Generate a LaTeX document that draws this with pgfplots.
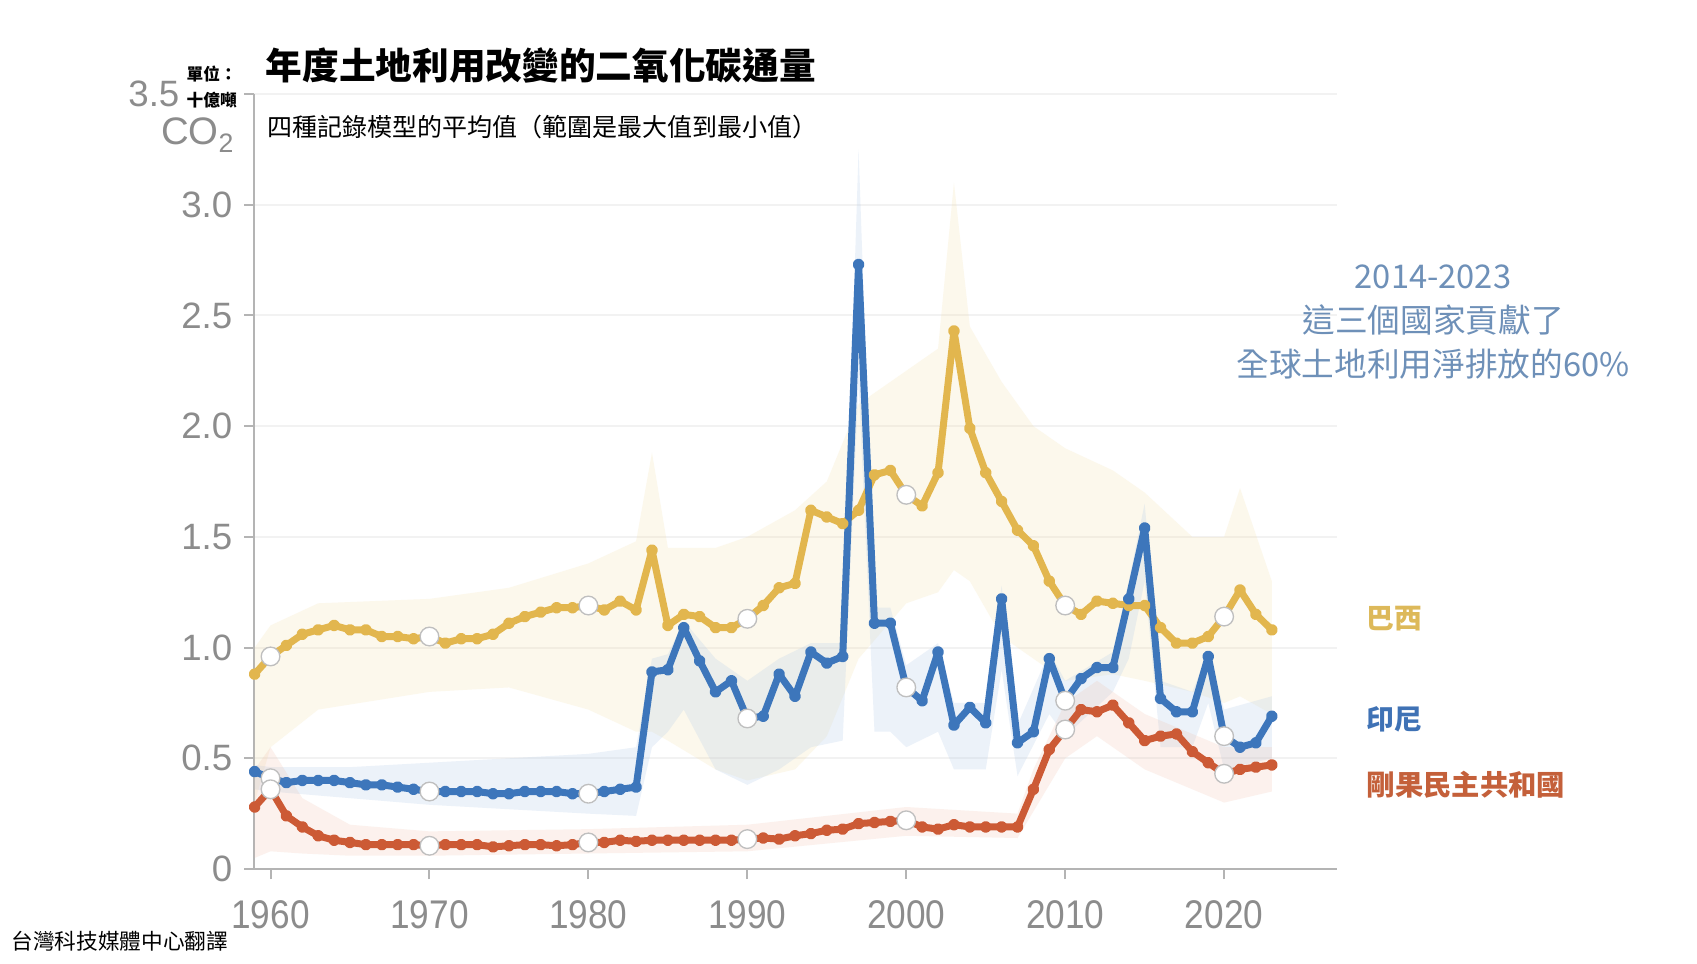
\documentclass[border=0pt]{standalone}
\usepackage{pgfplots}
\pgfplotsset{compat=1.18}
\usepackage{pgfplotstable}
\usepackage{fontspec}
\setmainfont{Liberation Sans}
\newfontfamily\cjk{Noto Sans CJK TC}
\definecolor{cBR}{HTML}{E2B64E}
\definecolor{cID}{HTML}{3D76BB}
\definecolor{cCD}{HTML}{CC5A35}
\definecolor{cBRb}{HTML}{F3DDA0}
\definecolor{cIDb}{HTML}{B5CDEA}
\definecolor{cCDb}{HTML}{F0BBA8}
\definecolor{cAnn}{HTML}{6E90B8}
\definecolor{cTick}{HTML}{8C8C8C}
\definecolor{cAxis}{HTML}{B4B4B4}
\definecolor{cBRl}{HTML}{DDB95A}
\definecolor{cIDl}{HTML}{3F72B5}
\definecolor{cCDl}{HTML}{C4603A}

\pgfplotstableread{
year br id cd
1959 0.88 0.44 0.28
1960 0.96 0.41 0.36
1961 1.01 0.39 0.24
1962 1.06 0.40 0.19
1963 1.08 0.40 0.15
1964 1.10 0.40 0.13
1965 1.08 0.39 0.12
1966 1.08 0.38 0.11
1967 1.05 0.38 0.11
1968 1.05 0.37 0.11
1969 1.04 0.36 0.11
1970 1.05 0.35 0.105
1971 1.02 0.35 0.11
1972 1.04 0.35 0.11
1973 1.04 0.35 0.11
1974 1.06 0.34 0.10
1975 1.11 0.34 0.105
1976 1.14 0.35 0.11
1977 1.16 0.35 0.11
1978 1.18 0.35 0.105
1979 1.18 0.34 0.11
1980 1.19 0.34 0.12
1981 1.17 0.35 0.12
1982 1.21 0.36 0.13
1983 1.17 0.37 0.125
1984 1.44 0.89 0.13
1985 1.10 0.90 0.13
1986 1.15 1.09 0.13
1987 1.14 0.94 0.13
1988 1.09 0.80 0.13
1989 1.09 0.85 0.13
1990 1.13 0.68 0.135
1991 1.19 0.69 0.14
1992 1.27 0.88 0.135
1993 1.29 0.78 0.15
1994 1.62 0.98 0.16
1995 1.59 0.93 0.175
1996 1.56 0.96 0.18
1997 1.62 2.73 0.205
1998 1.78 1.11 0.21
1999 1.80 1.11 0.215
2000 1.69 0.82 0.22
2001 1.64 0.76 0.19
2002 1.79 0.98 0.18
2003 2.43 0.65 0.20
2004 1.99 0.73 0.19
2005 1.79 0.66 0.19
2006 1.66 1.22 0.19
2007 1.53 0.57 0.19
2008 1.46 0.62 0.36
2009 1.30 0.95 0.54
2010 1.19 0.76 0.63
2011 1.15 0.86 0.72
2012 1.21 0.91 0.71
2013 1.20 0.91 0.74
2014 1.19 1.22 0.66
2015 1.19 1.54 0.58
2016 1.09 0.77 0.60
2017 1.02 0.71 0.61
2018 1.02 0.71 0.53
2019 1.05 0.96 0.48
2020 1.14 0.60 0.43
2021 1.26 0.55 0.45
2022 1.15 0.57 0.46
2023 1.08 0.69 0.47
}\main

\begin{document}
\begin{tikzpicture}
\fill[white] (0,0) rectangle (509.1pt,-289.2pt);
\useasboundingbox (0,0) rectangle (509.1pt,-289.2pt);
\begin{axis}[
  at={(76.2pt,-260.7pt)}, anchor=south west,
  scale only axis, width=324.9pt, height=232.5pt,
  xmin=1958.96, xmax=2027.1, ymin=0, ymax=3.5,
  axis x line*=bottom, axis y line*=left,
  axis line style={draw=cAxis, line width=0.6pt},
  xtick={1960,1970,1980,1990,2000,2010,2020},
  xticklabels={1960,1970,1980,1990,2000,2010,2020},
  ytick={0,0.5,1,1.5,2,2.5,3,3.5},
  yticklabels={0,0.5,1.0,1.5,2.0,2.5,3.0,{}},
  tick align=outside, major tick length=3pt,
  tick style={draw=cAxis, line width=0.6pt},
  ymajorgrids, grid style={draw=black!5, line width=0.6pt},
  ticklabel style={font=\fontsize{11}{11}\selectfont, text=cTick},
  xticklabel style={font=\fontsize{12}{12}\selectfont, xscale=0.88, yshift=-3pt},
]
% uncertainty ranges (max to min), drawn as closed polygons
\addplot[fill=cBRb, fill opacity=0.2, draw=none, forget plot] coordinates {
(1959,1.00)(1960,1.10)(1963,1.20)(1970,1.22)(1975,1.27)(1980,1.38)(1983,1.48)(1984,1.88)(1985,1.45)(1988,1.45)(1990,1.50)(1993,1.62)(1995,1.75)(1997,2.10)(2000,2.25)(2002,2.35)(2003,3.10)(2004,2.45)(2006,2.20)(2008,2.00)(2010,1.90)(2013,1.80)(2015,1.70)(2018,1.50)(2020,1.50)(2021,1.72)(2023,1.30)
(2023,0.70)(2021,0.78)(2020,0.75)(2018,0.80)(2015,0.85)(2013,0.88)(2010,0.85)(2008,0.95)(2006,1.05)(2004,1.30)(2003,1.35)(2002,1.25)(2000,1.20)(1997,0.95)(1995,0.60)(1993,0.45)(1990,0.40)(1988,0.45)(1985,0.58)(1984,0.62)(1983,0.62)(1980,0.72)(1975,0.82)(1970,0.80)(1963,0.72)(1960,0.55)(1959,0.30)};
\addplot[fill=cIDb, fill opacity=0.25, draw=none, forget plot] coordinates {
(1959,0.47)(1960,0.46)(1965,0.46)(1970,0.48)(1975,0.50)(1980,0.52)(1983,0.55)(1984,0.95)(1985,0.97)(1986,1.12)(1988,0.95)(1990,0.85)(1992,0.95)(1994,1.02)(1996,1.02)(1997,3.25)(1998,1.18)(1999,1.18)(2000,0.92)(2002,1.02)(2003,0.75)(2005,0.75)(2006,1.28)(2007,0.65)(2009,0.98)(2010,0.85)(2013,0.98)(2014,1.30)(2015,1.65)(2016,0.85)(2018,0.80)(2019,0.98)(2020,0.72)(2023,0.78)
(2023,0.50)(2020,0.45)(2019,0.75)(2018,0.55)(2016,0.55)(2015,1.30)(2014,0.95)(2013,0.80)(2010,0.60)(2009,0.70)(2007,0.42)(2006,0.90)(2005,0.45)(2003,0.45)(2002,0.62)(2000,0.55)(1999,0.62)(1998,0.62)(1997,2.20)(1996,0.58)(1994,0.55)(1992,0.45)(1990,0.38)(1988,0.45)(1986,0.72)(1985,0.62)(1984,0.55)(1983,0.24)(1980,0.25)(1975,0.27)(1970,0.29)(1965,0.32)(1960,0.35)(1959,0.36)};
\addplot[fill=cCDb, fill opacity=0.2, draw=none, forget plot] coordinates {
(1959,0.45)(1960,0.55)(1962,0.32)(1965,0.20)(1970,0.17)(1980,0.18)(1990,0.20)(2000,0.28)(2007,0.25)(2008,0.45)(2010,0.75)(2012,0.85)(2015,0.70)(2020,0.55)(2023,0.55)
(2023,0.35)(2020,0.30)(2015,0.45)(2012,0.60)(2010,0.50)(2008,0.26)(2007,0.14)(2000,0.15)(1990,0.08)(1980,0.07)(1970,0.06)(1965,0.06)(1962,0.07)(1960,0.08)(1959,0.05)};
% Brazil
\addplot[cBR, line width=2.1pt, line join=round, mark=*, mark size=0.7pt,
  mark options={fill=white, draw=none, solid}] table[x=year,y=br]{\main};
\addplot[only marks, mark=*, mark size=2.8pt, mark options={fill=white, draw=black!25, line width=0.4pt}]
  coordinates {(1960,0.96)(1970,1.05)(1980,1.19)(1990,1.13)(2000,1.69)(2010,1.19)(2020,1.14)};
% Indonesia
\addplot[cID, line width=2.1pt, line join=round, mark=*, mark size=0.7pt,
  mark options={fill=white, draw=none, solid}] table[x=year,y=id]{\main};
\addplot[only marks, mark=*, mark size=2.8pt, mark options={fill=white, draw=black!25, line width=0.4pt}]
  coordinates {(1960,0.41)(1970,0.35)(1980,0.34)(1990,0.68)(2000,0.82)(2010,0.76)(2020,0.60)};
% DR Congo
\addplot[cCD, line width=2.1pt, line join=round, mark=*, mark size=0.7pt,
  mark options={fill=white, draw=none, solid}] table[x=year,y=cd]{\main};
\addplot[only marks, mark=*, mark size=2.8pt, mark options={fill=white, draw=black!25, line width=0.4pt}]
  coordinates {(1960,0.36)(1970,0.105)(1980,0.12)(1990,0.135)(2000,0.22)(2010,0.63)(2020,0.43)};
\end{axis}
\begin{scope}[x=0.3pt,y=-0.3pt]
\node[anchor=west, inner sep=0pt, font=\cjk\bfseries\fontsize{11}{11}\selectfont] at (265,65) {年度土地利用改變的二氧化碳通量};
\node[anchor=west, inner sep=0pt, font=\cjk\fontsize{7.5}{7.5}\selectfont] at (267,127) {四種記錄模型的平均值（範圍是最大值到最小值）};
\node[anchor=west, inner sep=0pt, font=\cjk\bfseries\fontsize{5}{5}\selectfont] at (186,74) {單位：};
\node[anchor=west, inner sep=0pt, font=\cjk\bfseries\fontsize{5}{5}\selectfont] at (186,100) {十億噸};
\node[anchor=east, inner sep=0pt, text=cTick, font=\fontsize{11}{11}\selectfont] at (180,94) {3.5};
\node[anchor=east, inner sep=0pt, text=cTick, font=\fontsize{11.5}{11.5}\selectfont] at (234,135) {CO\raisebox{-0.4ex}{\fontsize{8}{8}\selectfont 2}};
\node[align=center, text=cAnn, font=\cjk\fontsize{9.8}{13.3}\selectfont] at (1433,322) {2014-2023\\這三個國家貢獻了\\全球土地利用淨排放的60\%};
\node[anchor=west, inner sep=0pt, text=cBRl, font=\cjk\bfseries\fontsize{8.3}{8.3}\selectfont] at (1366,619) {巴西};
\node[anchor=west, inner sep=0pt, text=cIDl, font=\cjk\bfseries\fontsize{8.3}{8.3}\selectfont] at (1366,719) {印尼};
\node[anchor=west, inner sep=0pt, text=cCDl, font=\cjk\bfseries\fontsize{8.5}{8.5}\selectfont] at (1366,785) {剛果民主共和國};
\node[anchor=west, inner sep=0pt, font=\cjk\fontsize{6.5}{6.5}\selectfont] at (11,941) {台灣科技媒體中心翻譯};
\end{scope}
\end{tikzpicture}
\end{document}
